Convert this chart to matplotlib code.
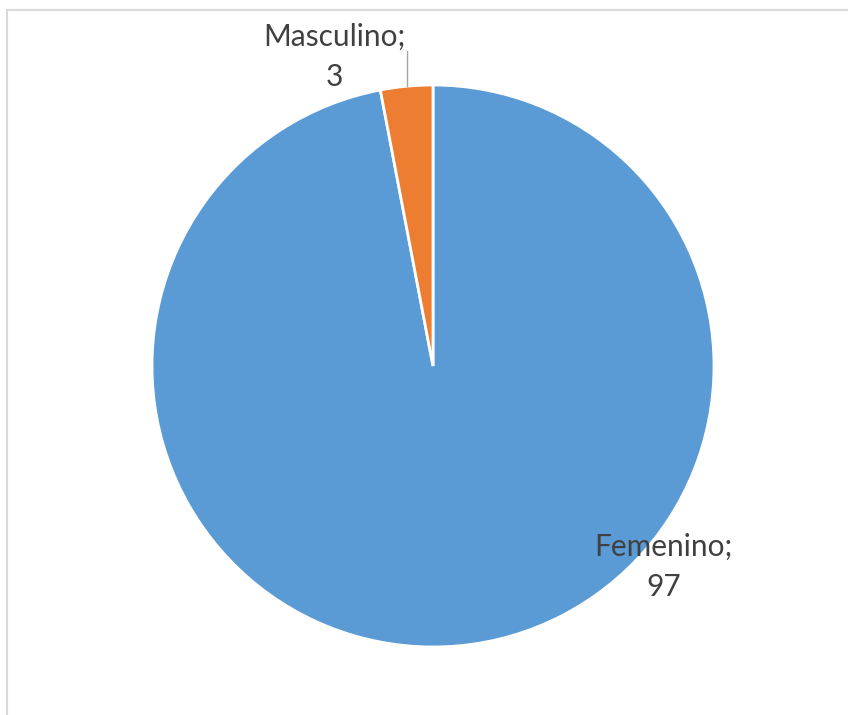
import numpy as np
import matplotlib.pyplot as plt
from matplotlib.patches import Rectangle

labels = ["Femenino", "Masculino"]
values = [97, 3]
colors = ["#5B9BD5", "#ED7D31"]

plt.rcParams['font.family'] = ['Lato', 'DejaVu Sans']

fig = plt.figure(figsize=(8.48, 7.15), dpi=100)
# light chart border (Excel style)
fig.patches.append(Rectangle((7 / 848, -0.1), 1.2, (715 - 10) / 715 + 0.1,
                             transform=fig.transFigure, fill=False,
                             edgecolor="#D9D9D9", linewidth=1.5))

ax = fig.add_axes([152 / 848, 68 / 715, 562 / 848, 562 / 715])
wedges, _ = ax.pie(values, colors=colors, startangle=90, counterclock=False,
                   radius=1.0, wedgeprops=dict(edgecolor="white", linewidth=2))
ax.set_xlim(-1, 1)
ax.set_ylim(-1, 1)
ax.set_aspect("equal")
ax.axis("off")

txt = dict(ha="center", va="center", fontsize=21.5, color="#404040",
           linespacing=1.55)

# Femenino label inside lower right
ax.text(0.82, -0.714, f"{labels[0]};\n{values[0]}", **txt)

# Masculino label outside with leader line
w = wedges[1]
mid = np.deg2rad((w.theta1 + w.theta2) / 2)
x0, y0 = np.cos(mid), np.sin(mid)
ax.plot([x0, x0], [y0, 1.12], color="#A6A6A6", linewidth=1, clip_on=False)
ax.text(-0.35, 1.10, f"{labels[1]};\n{values[1]}", clip_on=False, **txt)

fig.savefig("out.png", dpi=100)
